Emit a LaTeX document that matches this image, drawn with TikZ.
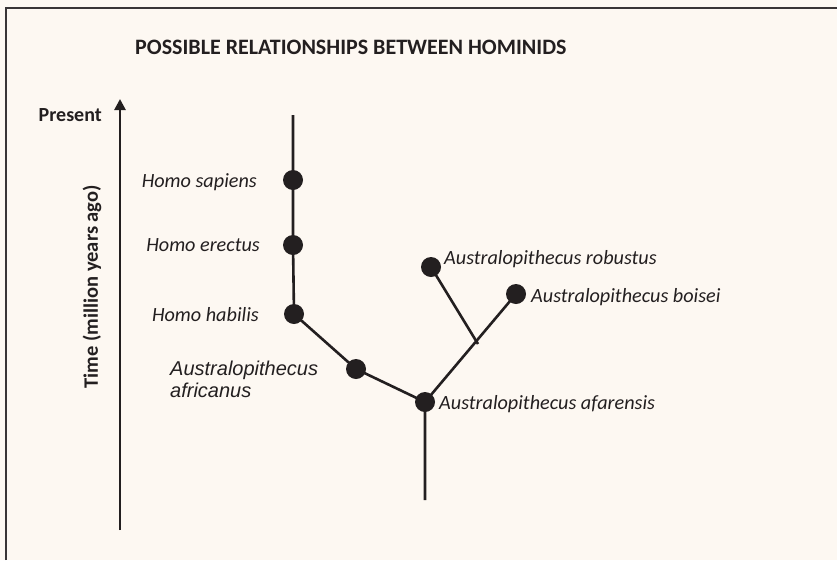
\documentclass[tikz,border=0pt]{standalone}
\usepackage{fontspec}
\setmainfont{Carlito}
\newfontfamily\arialfont{Liberation Sans}
\usetikzlibrary{arrows.meta}
\definecolor{bg}{HTML}{FDF8F2}
\definecolor{ink}{HTML}{231F20}
\tikzset{
  branch/.style={line width=2.6pt, draw=ink},
  dot/.style={circle, fill=ink, minimum size=20pt, inner sep=0pt},
  lab/.style={font=\fontsize{20.2}{24}\selectfont\itshape, text=ink, inner sep=0pt},
}
\begin{document}
\begin{tikzpicture}[x=1pt,y=-1pt]
\fill[bg] (0,0) rectangle (837,560);
\useasboundingbox (0,0) rectangle (837,560);
% frame (only top and left visible)
\draw[line width=2pt, draw=ink!90] (6,560) -- (6,8) -- (837,8);
% title
\node[anchor=west, inner sep=0pt, text=ink, font=\fontsize{22}{26}\selectfont\bfseries] (title) at (135,47) {POSSIBLE RELATIONSHIPS BETWEEN HOMINIDS};
% time axis
\coordinate (axb) at (120,530);
\coordinate (axt) at (120,99);
\draw[line width=2.6pt, draw=ink, -{Triangle[length=11pt,width=11pt]}] (axb) -- (axt);
\node[anchor=east, inner sep=0pt, text=ink, font=\fontsize{20}{24}\selectfont\bfseries] (present) at (102,115) {Present};
\node[rotate=90, inner sep=0pt, text=ink, font=\fontsize{20.5}{24}\selectfont\bfseries] (time) at (92,287) {Time (million years ago)};
% tree
\coordinate (top) at (293,115);
\node[dot] (sap) at (293,180) {};
\node[dot] (ere) at (293,245) {};
\node[dot] (hab) at (294,314) {};
\node[dot] (afr) at (356,369) {};
\node[dot] (afa) at (425,402) {};
\node[dot] (rob) at (431,267) {};
\node[dot] (boi) at (516,294) {};
\coordinate (jn) at (478,344);
\coordinate (bot) at (425,500);
\draw[branch] (top) -- (sap.center) -- (ere.center) -- (hab.center) -- (afr.center) -- (afa.center) -- (bot);
\draw[branch] (afa.center) -- (boi.center);
\draw[branch] (jn) -- (rob.center);
% labels
\node[lab, anchor=east] at (257,182) {Homo sapiens};
\node[lab, anchor=east] at (260,245) {Homo erectus};
\node[lab, anchor=east] at (259,315) {Homo habilis};
\node[anchor=north west, inner sep=0pt, text=ink, align=left, font=\arialfont\fontsize{20}{22}\selectfont\itshape] at (170,361) {Australopithecus\\africanus};
\node[lab, anchor=west] at (444,259) {Australopithecus robustus};
\node[lab, anchor=west] at (531,297) {Australopithecus boisei};
\node[lab, anchor=west] at (439,404) {Australopithecus afarensis};
\end{tikzpicture}
\end{document}
